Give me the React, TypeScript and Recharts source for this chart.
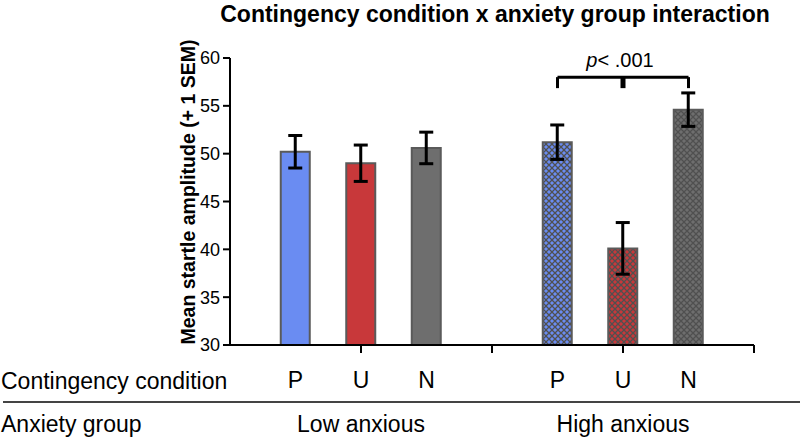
import { Bar, BarChart, Cell, Customized, ErrorBar, Label, ReferenceLine, XAxis, YAxis } from 'recharts';

const groups = ['Low anxious', 'High anxious'];
const conditions = ['P', 'U', 'N'];
const lowMeans = [50.2, 49.0, 50.6];
const lowSem = [1.7, 1.9, 1.65];
const highMeans = [51.2, 40.1, 54.6];
const highSem = [1.8, 2.7, 1.75];
const yTicks = [30, 35, 40, 45, 50, 55, 60];

// each group takes 4 slots on the x axis: 3 bars and a gap
const data = [lowMeans, highMeans].flatMap((means, g) =>
  means.map((mean, i) => ({
    slot: g * 4 + i + 1,
    condition: conditions[i],
    group: groups[g],
    mean,
    sem: (g === 0 ? lowSem : highSem)[i]
  }))
);

const FONT = '"Liberation Sans", Arial, sans-serif';
const colors = ['#6a8cf2', '#c8383a', '#6e6e6e'];
const fills = [...colors, 'url(#hatch0)', 'url(#hatch1)', 'url(#hatch2)'];

function Patterns() {
  return (
    <svg width={0} height={0} style={{ position: 'absolute' }}>
      <defs>
        {colors.map((c, i) => (
          <pattern key={i} id={`hatch${i}`} patternUnits="userSpaceOnUse" width={6} height={6}>
            <rect width={6} height={6} fill={c} />
            <path d="M0,0 L6,6 M6,0 L0,6" stroke="#505050" strokeWidth={1.3} />
          </pattern>
        ))}
      </defs>
    </svg>
  );
}

function CondTick({ x, y, payload }: any) {
  return (
    <text x={x} y={y} dy={27} textAnchor="middle" fontSize={23} fontFamily={FONT} fill="#000">
      {conditions[(payload.value - 1) % 4]}
    </text>
  );
}

function GroupTick({ x, y, payload }: any) {
  return (
    <text x={x} y={y} dy={21} textAnchor="middle" fontSize={23} fontFamily={FONT} fill="#000">
      {groups[(payload.value - 2) / 4]}
    </text>
  );
}

function PLabel({ viewBox }: any) {
  const cx = viewBox.x + viewBox.width / 2 - 3;
  return (
    <text x={cx} y={viewBox.y - 10} textAnchor="middle" fontSize={20} fontFamily={FONT} fill="#000">
      <tspan fontStyle="italic">p</tspan>
      {'< .001'}
    </text>
  );
}

function Extras() {
  return (
    <g fontFamily={FONT} fill="#000">
      <text x={495} y={22} textAnchor="middle" fontSize={23} fontWeight="bold">
        Contingency condition x anxiety group interaction
      </text>
      <text
        x={188}
        y={192}
        transform="rotate(-90, 188, 192)"
        textAnchor="middle"
        dominantBaseline="central"
        fontSize={19.5}
        fontWeight="bold"
      >
        Mean startle amplitude (+ 1 SEM)
      </text>
      <text x={1} y={389} fontSize={23}>Contingency condition</text>
      <line x1={3} x2={800} y1={402} y2={402} stroke="#444" strokeWidth={2} />
      <text x={1} y={432} fontSize={23}>Anxiety group</text>
    </g>
  );
}

export default function App() {
  const bracketY = 58.0;
  const bracketFoot = 56.85;
  return (
    <div style={{ position: 'absolute', left: 0, top: 0, background: '#fff' }}>
      <Patterns />
      <BarChart width={800} height={439} data={data} margin={{ top: 58, right: 46, left: 0, bottom: 0 }}>
        <XAxis
          xAxisId="bars"
          dataKey="slot"
          type="number"
          domain={[0, 8]}
          ticks={[2, 4, 6, 8]}
          tickFormatter={() => ''}
          height={8}
          tickSize={8}
          axisLine={{ stroke: '#000', strokeWidth: 2 }}
          tickLine={{ stroke: '#000', strokeWidth: 2 }}
        />
        <XAxis
          xAxisId="cond"
          dataKey="slot"
          type="number"
          domain={[0, 8]}
          ticks={[1, 2, 3, 5, 6, 7]}
          height={50}
          axisLine={false}
          tickLine={false}
          tick={<CondTick />}
          interval={0}
        />
        <XAxis
          xAxisId="group"
          dataKey="slot"
          type="number"
          domain={[0, 8]}
          ticks={[2, 6]}
          height={36}
          axisLine={false}
          tickLine={false}
          tick={<GroupTick />}
          interval={0}
        />
        <YAxis
          width={230}
          domain={[30, 60]}
          ticks={yTicks}
          allowDataOverflow
          tickSize={7}
          tickMargin={3}
          interval={0}
          tick={{ fontSize: 18, fill: '#000', fontFamily: FONT }}
          axisLine={{ stroke: '#000', strokeWidth: 2 }}
          tickLine={{ stroke: '#000', strokeWidth: 2 }}
        />
        <Bar
          xAxisId="bars"
          dataKey="mean"
          barSize={29}
          stroke="#5a5a5a"
          strokeWidth={2}
          isAnimationActive={false}
        >
          {data.map((d, i) => (
            <Cell key={i} fill={fills[i]} />
          ))}
          <ErrorBar dataKey="sem" width={7} stroke="#000" strokeWidth={3} direction="y" />
        </Bar>
        <ReferenceLine
          xAxisId="bars"
          segment={[{ x: 5, y: bracketY }, { x: 7, y: bracketY }]}
          stroke="#000"
          strokeWidth={3}
          ifOverflow="visible"
        >
          <Label content={<PLabel />} />
        </ReferenceLine>
        <ReferenceLine
          xAxisId="bars"
          segment={[{ x: 5, y: bracketY }, { x: 5, y: bracketFoot }]}
          stroke="#000"
          strokeWidth={3}
          ifOverflow="visible"
        />
        <ReferenceLine
          xAxisId="bars"
          segment={[{ x: 7, y: bracketY }, { x: 7, y: bracketFoot }]}
          stroke="#000"
          strokeWidth={3}
          ifOverflow="visible"
        />
        <ReferenceLine
          xAxisId="bars"
          segment={[{ x: 6, y: bracketY }, { x: 6, y: bracketFoot }]}
          stroke="#000"
          strokeWidth={5}
          ifOverflow="visible"
        />
        <Customized component={<Extras />} />
      </BarChart>
    </div>
  );
}
